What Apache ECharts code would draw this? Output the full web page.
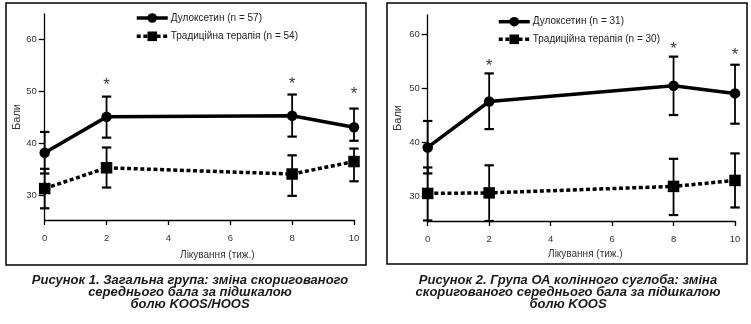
<!DOCTYPE html>
<html>
<head>
<meta charset="utf-8">
<script src="https://cdn.jsdelivr.net/npm/echarts@6/dist/echarts.min.js"></script>
<style>
html,body{margin:0;padding:0;background:#fff;}
#c{width:751px;height:324px;}
</style>
</head>
<body>
<div id="c"></div>
<script>
// ---- data ----
const weeks = [0, 2, 8, 10];
const xTicks = [0, 2, 4, 6, 8, 10];
const yTicks = [30, 40, 50, 60];
const starWeeks = [2, 8, 10];

// Figure 1: overall group
const names1 = ['Дулоксетин (n = 57)', 'Традиційна терапія (n = 54)'];
const dulox1 = [38.2, 45.1, 45.3, 43.1];
const dulox1Hi = [42.2, 49.0, 49.4, 46.7];
const dulox1Lo = [34.2, 41.1, 41.3, 40.5];
const trad1 = [31.3, 35.3, 34.1, 36.5];
const trad1Hi = [35.1, 39.2, 37.7, 39.0];
const trad1Lo = [27.5, 31.5, 29.9, 32.7];
const star1 = [52.0, 52.2, 50.3];

// Figure 2: knee OA group
const names2 = ['Дулоксетин (n = 31)', 'Традиційна терапія (n = 30)'];
const dulox2 = [39.1, 47.6, 50.5, 49.1];
const dulox2Hi = [44.0, 52.8, 55.9, 54.4];
const dulox2Lo = [34.3, 42.5, 45.1, 43.5];
const trad2 = [30.6, 30.7, 31.9, 33.0];
const trad2Hi = [35.4, 35.8, 37.0, 38.0];
const trad2Lo = [25.6, 25.5, 26.6, 28.0];
const star2 = [54.9, 58.0, 56.8];

const caption1 = ['Рисунок 1. Загальна група: зміна скоригованого', 'середнього бала за підшкалою', 'болю KOOS/HOOS'];
const caption2 = ['Рисунок 2. Група ОА колінного суглоба: зміна', 'скоригованого середнього бала за підшкалою', 'болю KOOS'];
const xName = 'Лікування (тиж.)';
const yName = 'Бали';

// ---- build ----
const narrow = "'Liberation Sans Narrow', 'Arial Narrow', 'Liberation Sans', Arial, sans-serif";
const pair = (xs, ys) => xs.map((x, i) => [x, ys[i]]);
const triple = (xs, lo, hi) => xs.map((x, i) => [x, lo[i], hi[i]]);

function errSeries(idx, lo, hi) {
  return {
    type: 'custom', xAxisIndex: idx, yAxisIndex: idx, z: 3,
    data: triple(weeks, lo, hi),
    encode: {x: 0, y: [1, 2]},
    silent: true,
    renderItem: function (params, api) {
      const x = api.value(0);
      const a = api.coord([x, api.value(2)]);
      const b = api.coord([x, api.value(1)]);
      const w = 4.7;
      const st = {stroke: '#000', lineWidth: 1.8};
      return {type: 'group', children: [
        {type: 'line', shape: {x1: a[0], y1: a[1], x2: b[0], y2: b[1]}, style: st},
        {type: 'line', shape: {x1: a[0] - w, y1: a[1], x2: a[0] + w, y2: a[1]}, style: {stroke: '#000', lineWidth: 2.2}},
        {type: 'line', shape: {x1: b[0] - w, y1: b[1], x2: b[0] + w, y2: b[1]}, style: {stroke: '#000', lineWidth: 2.2}}
      ]};
    }
  };
}
function lineSeries(idx, name, vals, solid) {
  return {
    type: 'line', name: name, xAxisIndex: idx, yAxisIndex: idx, z: 4,
    data: pair(weeks, vals),
    symbol: solid ? 'circle' : 'rect',
    symbolSize: solid ? 10.5 : 11.5,
    itemStyle: {color: '#000'},
    lineStyle: solid ? {color: '#000', width: 3.5} : {color: '#000', width: 3.5, type: [4, 2.6], cap: 'butt'},
    emphasis: {disabled: true}
  };
}
function starSeries(idx, vals) {
  return {
    type: 'scatter', xAxisIndex: idx, yAxisIndex: idx, z: 5,
    data: pair(starWeeks, vals), symbol: 'circle', symbolSize: 1, silent: true,
    itemStyle: {color: 'rgba(0,0,0,0)'},
    label: {show: true, position: 'inside', formatter: '*', color: '#000',
      fontFamily: 'Liberation Sans, Arial, sans-serif', fontSize: 17, offset: [0, 4]}
  };
}
function xAx(idx, padLeft, gap) {
  return {
    type: 'value', gridIndex: idx, min: 0, max: 10, interval: 2,
    name: xName, nameLocation: 'middle', nameGap: gap,
    nameTextStyle: {fontFamily: narrow, fontSize: 10, color: '#333', padding: [0, 0, 0, padLeft]},
    axisLine: {lineStyle: {color: '#000', width: 1.3}},
    axisTick: {length: 5, lineStyle: {color: '#000', width: 1.3}},
    axisLabel: {fontFamily: narrow, fontSize: 9.5, color: '#333', margin: 13, customValues: xTicks},
    splitLine: {show: false}
  };
}
function yAx(idx, min, max, gap) {
  return {
    type: 'value', gridIndex: idx, min: min, max: max,
    name: yName, nameLocation: 'middle', nameGap: gap, nameRotate: 90,
    nameTextStyle: {fontFamily: narrow, fontSize: 11, color: '#333'},
    axisLine: {show: true, lineStyle: {color: '#000', width: 1.3}},
    axisTick: {show: true, length: 6, lineStyle: {color: '#000', width: 1.3}, customValues: yTicks},
    axisLabel: {fontFamily: narrow, fontSize: 9.5, color: '#333', margin: 8, customValues: yTicks},
    splitLine: {show: false}
  };
}
function legend(left, top, gap, names) {
  return {
    orient: 'vertical', left: left, top: top, padding: 0, itemWidth: 31, itemHeight: 12, itemGap: gap,
    data: names, selectedMode: false,
    lineStyle: {width: 'inherit', type: 'inherit'},
    textStyle: {fontFamily: narrow, fontSize: 10, color: '#222', padding: [0, 0, 0, -2]}
  };
}
function caption(cx, lines) {
  return lines.map((t, i) => ({
    type: 'text', z: 10,
    style: {text: t, x: cx, y: 273.5 + i * 12.2, textAlign: 'center', fill: '#1a1a1a',
      font: 'italic bold 13px "Liberation Sans", Arial, sans-serif'}
  }));
}

const chart = echarts.init(document.getElementById('c'), null, {renderer: 'canvas'});
chart.setOption({
  animation: false,
  backgroundColor: '#fff',
  grid: [
    {left: 44.7, top: 14, width: 309.3, height: 206},
    {left: 427.7, top: 15, width: 307.3, height: 206}
  ],
  xAxis: [xAx(0, 36, 30), xAx(1, 8, 22)],
  yAxis: [yAx(0, 25.25, 64.9, 22), yAx(1, 25.5, 63.6, 24)],
  legend: [legend(135, 13, 8.3, names1), legend(497, 16.7, 7.6, names2)],
  series: [
    errSeries(0, dulox1Lo, dulox1Hi), errSeries(0, trad1Lo, trad1Hi),
    lineSeries(0, names1[0], dulox1, true), lineSeries(0, names1[1], trad1, false),
    starSeries(0, star1),
    errSeries(1, dulox2Lo, dulox2Hi), errSeries(1, trad2Lo, trad2Hi),
    lineSeries(1, names2[0], dulox2, true), lineSeries(1, names2[1], trad2, false),
    starSeries(1, star2)
  ],
  graphic: [
    {type: 'rect', shape: {x: 6, y: 3, width: 360, height: 262}, style: {fill: 'none', stroke: '#000', lineWidth: 1.5}, z: -1},
    {type: 'rect', shape: {x: 387, y: 3, width: 360, height: 261}, style: {fill: 'none', stroke: '#000', lineWidth: 1.5}, z: -1}
  ].concat(caption(190, caption1)).concat(caption(568, caption2))
});
</script>
</body>
</html>
